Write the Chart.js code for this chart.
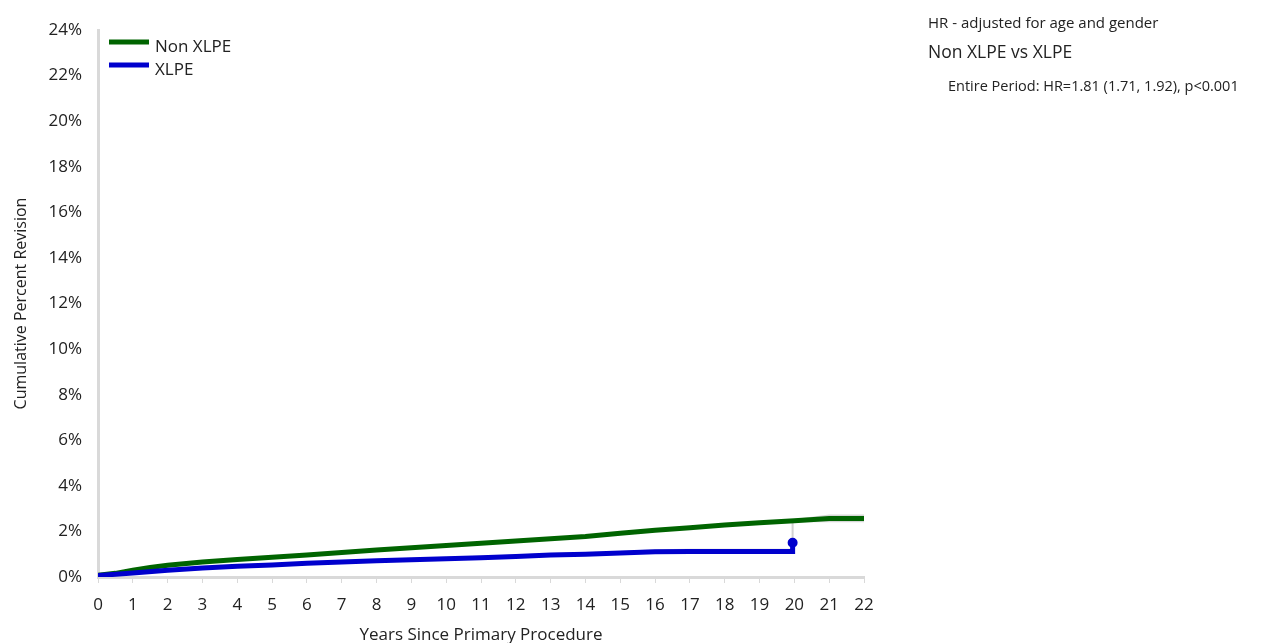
<!DOCTYPE html>
<html lang="en">
<head>
    <meta charset="UTF-8">
    <title>Cumulative Percent Revision</title>
    <script src="https://cdn.jsdelivr.net/npm/chart.js"></script>
    <style>
        html, body { margin: 0; padding: 0; background: #fff; }
        #wrap { width: 1266px; height: 643px; }
    </style>
</head>
<body>
<div id="wrap"><canvas id="kmChart"></canvas></div>

<script>
    // Years and cumulative percent revision
    const nonXlpeYears = [0, 0.5, 1, 1.5, 2, 3, 4, 5, 6, 7, 8, 9, 10, 11, 12, 13, 14, 15, 16, 17, 18, 19, 20, 21, 22];
    const nonXlpeCpr   = [0.08, 0.16, 0.3, 0.42, 0.52, 0.66, 0.77, 0.87, 0.97, 1.08, 1.18, 1.28, 1.38, 1.48, 1.58, 1.68, 1.78, 1.92, 2.05, 2.16, 2.28, 2.38, 2.47, 2.57, 2.57];
    const nonXlpeLower = [0.06, 0.14, 0.28, 0.40, 0.50, 0.64, 0.75, 0.85, 0.95, 1.06, 1.16, 1.26, 1.36, 1.46, 1.56, 1.66, 1.75, 1.89, 2.02, 2.13, 2.24, 2.34, 2.40, 2.40, 2.40];
    const nonXlpeUpper = [0.10, 0.18, 0.32, 0.44, 0.54, 0.68, 0.79, 0.89, 0.99, 1.10, 1.20, 1.30, 1.40, 1.50, 1.60, 1.70, 1.81, 1.95, 2.08, 2.19, 2.32, 2.42, 2.54, 2.74, 2.74];

    const xlpeYears = [0, 1, 2, 3, 4, 5, 6, 7, 8, 9, 10, 11, 12, 13, 14, 15, 16, 17, 18, 19, 19.95, 19.95];
    const xlpeCpr   = [0.06, 0.18, 0.3, 0.4, 0.47, 0.53, 0.6, 0.66, 0.71, 0.76, 0.8, 0.85, 0.9, 0.96, 1.0, 1.05, 1.11, 1.12, 1.12, 1.12, 1.12, 1.5];
    const xlpeLower = [0.04, 0.15, 0.27, 0.37, 0.44, 0.50, 0.57, 0.63, 0.68, 0.72, 0.76, 0.81, 0.86, 0.91, 0.95, 1.0, 1.05, 1.04, 1.04, 1.04, 1.04, 1.04];
    const xlpeUpper = [0.08, 0.21, 0.33, 0.43, 0.50, 0.56, 0.63, 0.69, 0.74, 0.80, 0.84, 0.89, 0.94, 1.01, 1.05, 1.10, 1.17, 1.20, 1.20, 1.20, 1.20, 2.42];

    const xTicks = { min: 0, max: 22, step: 1 };
    const yTicks = { min: 0, max: 24, step: 2 };

    const seriesNames = ['Non XLPE', 'XLPE'];
    const seriesColors = ['#006400', '#0000cd'];

    const notes = [
        'HR - adjusted for age and gender',
        'Non XLPE vs XLPE',
        'Entire Period: HR=1.81 (1.71, 1.92), p<0.001'
    ];

    const pts = (xs, ys) => xs.map((x, i) => ({ x: x, y: ys[i] }));
    const FONT = "'Open Sans', 'Noto Sans', sans-serif";
    const GREY = '#d9d9d9';

    // Legend drawn inside the plot plus the HR notes on the right
    const extras = {
        id: 'extras',
        afterDraw(chart) {
            const c = chart.ctx;
            const a = chart.chartArea;
            c.save();
            c.textBaseline = 'middle';
            seriesNames.forEach((name, i) => {
                const y = a.top + 12 + i * 23;
                c.strokeStyle = seriesColors[i];
                c.lineWidth = 5;
                c.beginPath();
                c.moveTo(a.left + 11, y);
                c.lineTo(a.left + 51, y);
                c.stroke();
                c.fillStyle = '#222';
                c.font = '17px ' + FONT;
                c.fillText(name, a.left + 57, y + 5);
            });
            c.fillStyle = '#222';
            c.font = '15px ' + FONT;
            c.fillText(notes[0], 928, 24);
            c.font = '17.5px ' + FONT;
            c.fillText(notes[1], 928, 53);
            c.font = '14.5px ' + FONT;
            c.fillText(notes[2], 948, 87);
            c.restore();
        }
    };

    const ci = (label, data, fill, width) => ({
        label: label,
        data: data,
        fill: fill,
        order: 5,
        pointRadius: 0,
        borderWidth: width,
        backgroundColor: 'rgba(205,205,205,0.8)',
        borderColor: 'rgba(205,205,205,0.9)'
    });

    const ctx = document.getElementById('kmChart').getContext('2d');
    const kmChart = new Chart(ctx, {
        type: 'line',
        data: {
            datasets: [
                ci('nonLo', pts(nonXlpeYears, nonXlpeLower), false, 0),
                ci('nonHi', pts(nonXlpeYears, nonXlpeUpper), '-1', 0),
                ci('xlLo', pts(xlpeYears, xlpeLower), false, 0),
                ci('xlHi', pts(xlpeYears, xlpeUpper), '-1', 2),
                {
                    label: seriesNames[0],
                    data: pts(nonXlpeYears, nonXlpeCpr),
                    borderColor: seriesColors[0],
                    borderWidth: 5,
                    pointRadius: 0,
                    fill: false,
                    order: 1
                },
                {
                    label: seriesNames[1],
                    data: pts(xlpeYears, xlpeCpr),
                    borderColor: seriesColors[1],
                    backgroundColor: seriesColors[1],
                    borderWidth: 5,
                    pointRadius: xlpeYears.map((x, i) => i === xlpeYears.length - 1 ? 2.5 : 0),
                    fill: false,
                    order: 0
                }
            ]
        },
        options: {
            responsive: true,
            maintainAspectRatio: false,
            animation: false,
            layout: { padding: { left: 0, right: 402, top: 30, bottom: 0 } },
            plugins: {
                legend: { display: false },
                tooltip: { enabled: false }
            },
            scales: {
                x: {
                    type: 'linear',
                    min: xTicks.min,
                    max: xTicks.max,
                    afterFit: s => { s.height = 66; },
                    grid: { display: true, drawOnChartArea: false, drawTicks: true, tickLength: 6, color: GREY },
                    border: { color: GREY, width: 3 },
                    ticks: { stepSize: xTicks.step, color: '#222', font: { family: FONT, size: 17 }, padding: 12 },
                    title: { display: true, text: 'Years Since Primary Procedure', color: '#222', font: { family: FONT, size: 17 }, padding: { top: 6, bottom: -2 } }
                },
                y: {
                    min: yTicks.min,
                    max: yTicks.max,
                    afterFit: s => { s.width = 98; },
                    grid: { display: false },
                    border: { color: GREY, width: 3 },
                    ticks: { stepSize: yTicks.step, color: '#222', font: { family: FONT, size: 17 }, padding: 8, callback: v => v + '%' },
                    title: { display: true, text: 'Cumulative Percent Revision', color: '#222', font: { family: FONT, size: 16 }, padding: { top: 12, bottom: 0 } }
                }
            }
        },
        plugins: [extras]
    });
</script>
</body>
</html>
